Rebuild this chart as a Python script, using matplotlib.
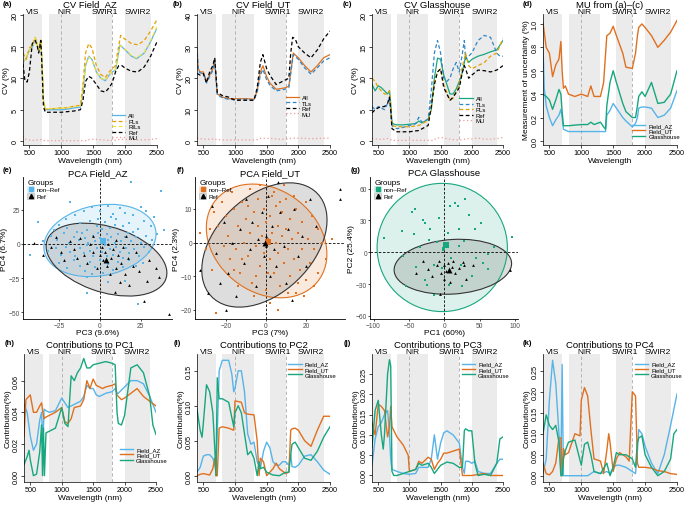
import numpy as np
import matplotlib
matplotlib.use('Agg')
import matplotlib.pyplot as plt
from matplotlib.patches import Ellipse, Patch
from matplotlib.lines import Line2D

plt.rcParams['font.family'] = ['Liberation Sans', 'DejaVu Sans']

# --- colours ---
C_AZ = '#56B4E9'
C_UT = '#E0701E'
C_GH = '#17A77E'
C_PL = '#E69F00'
C_RIL = '#EFE13F'
C_TL = '#2F86C8'
C_MU = '#F29A9A'

bands = [('VIS', 400, 700), ('NIR', 800, 1300), ('SWIR1', 1550, 1800), ('SWIR2', 2000, 2400)]

# --- (a) CV Field_AZ ---
cv_az_all = [(400, 12.5), (450, 13.2), (500, 14.5), (550, 15), (590, 16.3), (620, 15.5), (645, 14.2), (680, 16),
             (700, 12), (720, 6.5), (750, 5), (800, 5), (900, 5), (1000, 5), (1100, 5.1), (1200, 5.3), (1300, 5.4),
             (1340, 8), (1380, 12), (1430, 13.5), (1480, 13), (1550, 11), (1620, 10), (1690, 9.6), (1750, 10.5),
             (1800, 11), (1850, 11.3), (1880, 13), (1920, 15.3), (2000, 14.5), (2100, 13.5), (2180, 13.1),
             (2300, 14), (2400, 15.8), (2500, 18)]
cv_az_pl = [(400, 14), (450, 13), (500, 14.8), (550, 15.3), (590, 16.5), (620, 15.6), (645, 14.5), (680, 16.2),
            (700, 12), (720, 6.5), (750, 5.1), (800, 5.1), (900, 5.2), (1000, 5.3), (1100, 5.3), (1200, 5.6),
            (1300, 5.7), (1340, 9), (1380, 14), (1430, 15.5), (1480, 14.8), (1550, 12), (1620, 10.6), (1690, 10.1),
            (1750, 11), (1800, 11.5), (1850, 12), (1880, 14), (1930, 16.8), (2000, 16.2), (2100, 15.5),
            (2200, 15.3), (2300, 16), (2400, 17.5), (2500, 19.3)]
cv_az_ril = [(400, 12.6), (450, 13.3), (500, 14.6), (550, 15.1), (590, 16.4), (620, 15.6), (645, 14.3), (680, 16.1),
             (700, 12), (720, 6.5), (750, 5.2), (800, 5.2), (900, 5.2), (1000, 5.2), (1100, 5.3), (1200, 5.5),
             (1300, 5.6), (1340, 8.2), (1380, 12.2), (1430, 13.4), (1480, 12.9), (1550, 11), (1620, 10),
             (1690, 9.7), (1750, 10.5), (1800, 11.1), (1850, 11.4), (1880, 13.1), (1920, 15.2), (2000, 14.6),
             (2100, 13.6), (2180, 13.2), (2300, 14.1), (2400, 16), (2500, 18.2)]
cv_az_ref = [(400, 12.3), (430, 9.6), (465, 9.4), (500, 11), (545, 15.5), (590, 16), (620, 15.3), (645, 14),
             (680, 16), (700, 11), (720, 5.5), (750, 4.6), (800, 4.6), (900, 4.6), (1000, 4.6), (1100, 4.7),
             (1200, 4.8), (1300, 5), (1340, 6.5), (1380, 9.5), (1430, 10.3), (1480, 10), (1550, 9), (1620, 8),
             (1690, 7.8), (1750, 8.5), (1800, 9.3), (1850, 11), (1900, 12), (1950, 12), (2000, 11.6), (2100, 11.1),
             (2200, 11), (2300, 11.8), (2400, 13.5), (2500, 15.8)]

# --- (b) CV Field_UT ---
cv_ut_all = [(400, 29), (420, 23), (450, 22), (500, 22), (550, 19), (600, 21), (650, 23), (680, 26), (700, 20),
             (720, 15), (800, 14), (900, 13.5), (1000, 13.5), (1100, 13.5), (1200, 13.5), (1300, 13.3), (1350, 16),
             (1400, 22), (1440, 24), (1500, 20.5), (1550, 18.5), (1650, 16.5), (1750, 16.8), (1800, 17),
             (1850, 17.5), (1880, 22), (1920, 28), (2000, 26.5), (2100, 24), (2200, 22), (2300, 24), (2400, 26.5),
             (2500, 27.5)]
cv_ut_tl = [(400, 30), (420, 22.5), (450, 21.7), (500, 21.5), (550, 18.5), (600, 20.5), (650, 22.5), (680, 25.5),
            (700, 19.5), (720, 14.7), (800, 13.8), (900, 13.3), (1000, 13.2), (1100, 13.3), (1200, 13.3),
            (1300, 13.1), (1350, 15.5), (1400, 21), (1440, 22.8), (1500, 19.5), (1550, 17.8), (1650, 16),
            (1750, 16.3), (1800, 16.6), (1850, 17), (1880, 21.5), (1920, 27.5), (2000, 26), (2100, 23.3),
            (2200, 21.3), (2300, 23.3), (2400, 25.5), (2500, 26.5)]
cv_ut_ref = [(400, 21.5), (450, 21), (500, 21.5), (550, 18.5), (600, 22), (650, 24), (680, 26.5), (700, 21),
             (720, 15.5), (800, 14.5), (900, 14), (1000, 13), (1100, 13), (1200, 13), (1300, 13), (1350, 17),
             (1400, 25), (1440, 27.5), (1500, 23), (1550, 21), (1650, 18), (1750, 19), (1800, 19.5), (1850, 20),
             (1880, 28), (1910, 33), (1950, 32.5), (2000, 30), (2100, 28), (2200, 26.5), (2300, 29), (2400, 32.5),
             (2500, 35)]

# --- (c) CV Glasshouse ---
cv_gh_all = [(400, 9), (450, 8), (500, 8.8), (550, 8.5), (600, 8), (650, 7.5), (680, 8), (700, 6), (720, 3),
             (750, 2.7), (800, 2.6), (900, 2.6), (1000, 2.7), (1100, 2.8), (1150, 3.2), (1200, 2.9), (1300, 3.5),
             (1350, 5), (1400, 10), (1450, 13.2), (1500, 13), (1550, 10.5), (1650, 7.5), (1700, 7.5), (1750, 8.3),
             (1800, 9.5), (1850, 11), (1880, 12.5), (1900, 13.5), (1950, 12.5), (2000, 13), (2100, 13.5),
             (2200, 13.8), (2300, 14.2), (2400, 14.5), (2500, 16)]
cv_gh_tl = [(400, 5.5), (450, 5), (500, 5.5), (550, 5.3), (600, 5), (650, 6), (680, 7), (700, 5), (720, 2.5),
            (750, 2.2), (800, 2), (900, 2.2), (1000, 2.5), (1100, 2.8), (1150, 3.8), (1200, 3), (1300, 3.5),
            (1350, 8), (1400, 14), (1450, 16), (1500, 14), (1550, 10), (1600, 9.5), (1650, 10), (1700, 11.5),
            (1750, 12.5), (1800, 11), (1850, 14), (1880, 16), (1900, 13), (1950, 13.5), (2000, 14), (2100, 16),
            (2200, 16.8), (2300, 16.5), (2400, 14), (2450, 13.5), (2500, 13.5)]
cv_gh_pl = [(400, 10), (450, 9.5), (500, 8.5), (550, 8), (600, 7.5), (650, 7.5), (680, 8), (700, 5.5), (720, 2.5),
            (800, 2.3), (900, 2.3), (1000, 2.3), (1150, 2.5), (1300, 3.3), (1350, 5), (1400, 9.5), (1450, 11),
            (1500, 11.5), (1550, 9), (1650, 6.5), (1700, 6.8), (1800, 9), (1850, 12), (1880, 13), (1900, 14),
            (1950, 12), (2000, 11.5), (2100, 12), (2200, 12.5), (2300, 13.5), (2400, 14), (2500, 16.3)]
cv_gh_ref = [(400, 4.5), (450, 5), (500, 5.3), (550, 5.5), (600, 5.5), (650, 6), (680, 7), (700, 5), (720, 2),
             (750, 1.8), (800, 1.5), (1000, 1.5), (1150, 1.7), (1300, 2.5), (1350, 5.5), (1400, 9), (1450, 11),
             (1500, 11.5), (1550, 8.5), (1650, 6.5), (1700, 7), (1800, 8.5), (1850, 11), (1880, 12), (1900, 11.5),
             (1950, 10), (2000, 10.5), (2100, 11.3), (2200, 11.2), (2300, 11), (2400, 11.3), (2500, 12)]

# --- (d) measurement of uncertainty ---
mu_az = [(400, 0.8), (420, 0.45), (450, 0.3), (500, 0.2), (550, 0.13), (600, 0.18), (650, 0.22), (680, 0.27),
         (700, 0.2), (720, 0.1), (800, 0.08), (1000, 0.08), (1100, 0.08), (1300, 0.08), (1380, 0.08), (1400, 0.22),
         (1450, 0.26), (1500, 0.32), (1550, 0.28), (1650, 0.2), (1700, 0.17), (1800, 0.12), (1850, 0.15),
         (1880, 0.2), (1900, 0.28), (1950, 0.29), (2000, 0.29), (2100, 0.28), (2200, 0.2), (2300, 0.22),
         (2400, 0.28), (2500, 0.43)]
mu_ut = [(400, 1.01), (450, 0.8), (500, 0.75), (550, 0.55), (600, 0.65), (650, 0.7), (680, 0.85), (700, 0.6),
         (720, 0.45), (750, 0.47), (800, 0.4), (900, 0.38), (1000, 0.4), (1100, 0.38), (1150, 0.47), (1200, 0.38),
         (1300, 0.38), (1350, 0.5), (1400, 0.9), (1450, 0.92), (1500, 0.98), (1550, 0.9), (1650, 0.75),
         (1700, 0.63), (1800, 0.62), (1850, 0.75), (1880, 0.9), (1900, 0.97), (1950, 1.0), (2000, 0.97),
         (2100, 0.9), (2200, 0.8), (2300, 0.86), (2400, 0.93), (2500, 1.03)]
mu_gh = [(400, 0.4), (450, 0.38), (500, 0.35), (550, 0.27), (600, 0.35), (650, 0.44), (680, 0.4), (700, 0.25),
         (720, 0.13), (800, 0.13), (1000, 0.14), (1100, 0.14), (1150, 0.16), (1200, 0.14), (1300, 0.16),
         (1350, 0.12), (1380, 0.1), (1400, 0.3), (1450, 0.5), (1500, 0.6), (1550, 0.5), (1650, 0.32), (1700, 0.25),
         (1800, 0.2), (1850, 0.2), (1880, 0.3), (1900, 0.38), (1950, 0.42), (2000, 0.38), (2100, 0.5),
         (2200, 0.32), (2300, 0.33), (2400, 0.4), (2500, 0.6)]

# --- (h)-(k) contributions to PCs ---
pc1_az = [(400, 0.045), (450, 0.04), (500, 0.025), (550, 0.016), (600, 0.02), (650, 0.035), (680, 0.04),
          (700, 0.02), (720, 0.042), (750, 0.041), (800, 0.04), (900, 0.041), (1000, 0.049), (1100, 0.043),
          (1150, 0.044), (1200, 0.045), (1300, 0.047), (1350, 0.05), (1400, 0.057), (1450, 0.055), (1500, 0.055),
          (1550, 0.051), (1600, 0.05), (1700, 0.052), (1800, 0.053), (1850, 0.055), (1880, 0.052), (1900, 0.052),
          (1950, 0.054), (2000, 0.056), (2100, 0.06), (2200, 0.06), (2300, 0.058), (2400, 0.05), (2500, 0.04)]
pc1_ut = [(400, 0.025), (430, 0.048), (500, 0.051), (550, 0.04), (600, 0.04), (650, 0.044), (680, 0.046),
          (700, 0.04), (720, 0.036), (750, 0.037), (800, 0.038), (900, 0.04), (1000, 0.043), (1050, 0.034),
          (1100, 0.033), (1150, 0.036), (1200, 0.043), (1300, 0.044), (1350, 0.048), (1400, 0.06), (1450, 0.055),
          (1500, 0.061), (1550, 0.057), (1650, 0.055), (1700, 0.056), (1800, 0.057), (1850, 0.058),
          (1880, 0.051), (1900, 0.05), (1950, 0.048), (2000, 0.049), (2100, 0.052), (2200, 0.055), (2300, 0.05),
          (2400, 0.047), (2500, 0.044)]
pc1_gh = [(400, 0.007), (450, 0.012), (480, 0.016), (500, 0.01), (550, 0.0), (600, 0.001), (650, 0.015),
          (680, 0.032), (695, 0.0), (710, 0.03), (725, 0.0), (750, 0.027), (800, 0.028), (900, 0.03),
          (1000, 0.043), (1050, 0.033), (1100, 0.031), (1150, 0.063), (1200, 0.06), (1250, 0.065), (1300, 0.068),
          (1350, 0.074), (1400, 0.068), (1450, 0.068), (1500, 0.07), (1600, 0.071), (1700, 0.072), (1800, 0.071),
          (1850, 0.07), (1880, 0.04), (1900, 0.033), (1950, 0.032), (2000, 0.038), (2100, 0.068), (2200, 0.07),
          (2300, 0.065), (2400, 0.05), (2450, 0.032), (2500, 0.026)]

pc2_az = [(400, 0.005), (450, 0.012), (500, 0.028), (550, 0.03), (600, 0.03), (650, 0.025), (700, 0.01),
          (720, 0.06), (750, 0.15), (800, 0.165), (900, 0.165), (950, 0.145), (980, 0.12), (1000, 0.125),
          (1050, 0.15), (1100, 0.15), (1150, 0.12), (1200, 0.06), (1250, 0.045), (1300, 0.048), (1350, 0.02),
          (1400, 0.01), (1450, 0.035), (1500, 0.048), (1550, 0.04), (1600, 0.02), (1650, 0.015), (1700, 0.015),
          (1750, 0.02), (1800, 0.02), (1850, 0.015), (1880, 0.03), (1900, 0.013), (1950, 0.012), (2000, 0.015),
          (2100, 0.028), (2200, 0.03), (2300, 0.02), (2400, 0.008), (2500, 0.002)]
pc2_ut = [(400, 0.0), (450, 0.002), (500, 0.003), (600, 0.001), (650, 0.01), (680, 0.025), (700, 0.0),
          (720, 0.0), (750, 0.068), (800, 0.07), (900, 0.068), (980, 0.065), (1000, 0.107), (1100, 0.105),
          (1150, 0.09), (1200, 0.088), (1300, 0.087), (1350, 0.05), (1380, 0.0), (1400, 0.025), (1450, 0.02),
          (1500, 0.0), (1550, 0.005), (1600, 0.01), (1650, 0.018), (1700, 0.01), (1800, 0.003), (1850, 0.005),
          (1880, 0.065), (1900, 0.067), (1950, 0.068), (2000, 0.065), (2100, 0.05), (2200, 0.042), (2300, 0.065),
          (2400, 0.085), (2500, 0.085)]
pc2_gh = [(400, 0.095), (450, 0.065), (480, 0.055), (500, 0.075), (550, 0.13), (600, 0.12), (650, 0.09),
          (680, 0.04), (700, 0.0), (720, 0.14), (750, 0.11), (800, 0.11), (900, 0.105), (980, 0.07), (1000, 0.09),
          (1050, 0.1), (1100, 0.09), (1150, 0.06), (1200, 0.03), (1250, 0.035), (1300, 0.025), (1350, 0.0),
          (1380, 0.02), (1400, 0.01), (1450, 0.012), (1500, 0.005), (1550, 0.003), (1600, 0.001), (1700, 0.0),
          (1800, 0.005), (1850, 0.005), (1880, 0.03), (1900, 0.045), (1950, 0.048), (2000, 0.04), (2100, 0.025),
          (2200, 0.022), (2300, 0.035), (2400, 0.055), (2500, 0.07)]

pc3_az = [(400, 0.025), (450, 0.09), (500, 0.12), (550, 0.13), (600, 0.15), (650, 0.16), (680, 0.1), (700, 0.04),
          (720, 0.015), (800, 0.01), (900, 0.005), (1000, 0.003), (1100, 0.005), (1150, 0.02), (1200, 0.02),
          (1300, 0.02), (1350, 0.04), (1400, 0.1), (1450, 0.04), (1500, 0.08), (1550, 0.105), (1600, 0.11),
          (1700, 0.1), (1800, 0.08), (1850, 0.02), (1880, 0.005), (1900, 0.035), (1950, 0.035), (2000, 0.03),
          (2050, 0.035), (2100, 0.01), (2200, 0.005), (2300, 0.005), (2400, 0.03), (2450, 0.04), (2500, 0.04)]
pc3_ut = [(400, 0.13), (450, 0.1), (500, 0.175), (550, 0.17), (600, 0.16), (650, 0.095), (680, 0.12), (700, 0.17),
          (720, 0.12), (800, 0.095), (900, 0.075), (980, 0.05), (1000, 0.01), (1100, 0.015), (1150, 0.035),
          (1200, 0.03), (1300, 0.045), (1350, 0.04), (1400, 0.015), (1450, 0.03), (1500, 0.04), (1550, 0.055),
          (1600, 0.055), (1700, 0.06), (1800, 0.065), (1850, 0.0), (2000, 0.0), (2200, 0.005), (2300, 0.0),
          (2500, 0.0)]
pc3_gh = [(400, 0.07), (450, 0.16), (500, 0.185), (550, 0.1), (580, 0.065), (600, 0.1), (650, 0.25), (680, 0.285),
          (700, 0.27), (720, 0.01), (750, 0.0), (800, 0.0), (900, 0.005), (1000, 0.01), (1100, 0.015),
          (1150, 0.03), (1200, 0.025), (1300, 0.03), (1350, 0.02), (1400, 0.005), (1450, 0.015), (1500, 0.025),
          (1600, 0.033), (1700, 0.03), (1800, 0.02), (1850, 0.02), (1880, 0.11), (1900, 0.115), (1950, 0.11),
          (2000, 0.11), (2050, 0.03), (2100, 0.0), (2200, 0.003), (2300, 0.0), (2400, 0.03), (2450, 0.09),
          (2500, 0.095)]

pc4_az = [(400, 0.005), (450, 0.04), (500, 0.18), (550, 0.275), (600, 0.22), (650, 0.1), (680, 0.01),
          (700, 0.265), (720, 0.0), (800, 0.0), (1000, 0.0), (1100, 0.0), (1200, 0.01), (1300, 0.005),
          (1400, 0.01), (1450, 0.005), (1500, 0.02), (1550, 0.025), (1600, 0.025), (1700, 0.02), (1800, 0.01),
          (1850, 0.005), (1880, 0.06), (1900, 0.11), (1950, 0.1), (2000, 0.07), (2100, 0.03), (2200, 0.005),
          (2300, 0.05), (2400, 0.12), (2500, 0.195)]
pc4_ut = [(400, 0.03), (450, 0.005), (500, 0.002), (550, 0.01), (600, 0.03), (650, 0.09), (680, 0.09), (700, 0.0),
          (720, 0.065), (750, 0.05), (800, 0.055), (900, 0.1), (980, 0.095), (1000, 0.18), (1050, 0.21),
          (1100, 0.19), (1150, 0.11), (1200, 0.04), (1300, 0.035), (1350, 0.005), (1400, 0.06), (1430, 0.1),
          (1450, 0.08), (1500, 0.01), (1550, 0.04), (1600, 0.055), (1700, 0.045), (1750, 0.035), (1800, 0.2),
          (1850, 0.19), (1880, 0.03), (1900, 0.02), (2000, 0.02), (2100, 0.018), (2200, 0.012), (2300, 0.01),
          (2400, 0.005), (2500, 0.003)]
pc4_gh = [(400, 0.1), (450, 0.145), (500, 0.12), (550, 0.11), (600, 0.12), (650, 0.08), (680, 0.0), (700, 0.0),
          (720, 0.04), (750, 0.06), (800, 0.08), (900, 0.085), (1000, 0.025), (1050, 0.075), (1100, 0.08),
          (1150, 0.05), (1200, 0.01), (1300, 0.005), (1400, 0.03), (1450, 0.0), (1500, 0.02), (1550, 0.055),
          (1600, 0.05), (1700, 0.05), (1800, 0.04), (1850, 0.02), (1880, 0.08), (1900, 0.09), (1950, 0.095),
          (2000, 0.05), (2100, 0.02), (2200, 0.0), (2300, 0.01), (2400, 0.04), (2450, 0.1), (2500, 0.11)]

# --- PCA scores ---
az_nonref = [(19, 45), (37, 39), (-18, 31), (5, 28), (12, 26), (-5, 27), (25, 27), (28, 24), (-10, 24), (15, 23),
             (0, 24), (8, 22), (20, 21), (-15, 21), (-38, 16), (-25, 14), (-20, 12), (-12, 15), (-6, 17), (-2, 13),
             (3, 16), (6, 12), (10, 18), (14, 13), (18, 15), (23, 11), (27, 17), (31, 13), (39, 10), (-28, 10),
             (-8, 10), (1, 11), (-35, 2), (-30, 6), (-26, 3), (-22, 8), (-19, 1), (-16, 5), (-13, 3), (-11, 8),
             (-9, 4), (-7, 1), (-4, 6), (-3, 2), (-1, 8), (0, 4), (2, 1), (4, 7), (5, 3), (7, 5), (9, 1), (11, 7),
             (13, 2), (15, 5), (17, 8), (19, 2), (22, 5), (25, 1), (28, 6), (32, 3), (35, 7), (-43, -8), (-32, -5),
             (-27, -3), (-24, -8), (-21, -2), (-18, -6), (-15, -9), (-12, -3), (-10, -7), (-8, -1), (-6, -5),
             (-4, -9), (-2, -3), (1, -6), (3, -1), (4, -9), (6, -4), (8, -8), (10, -2), (12, -6), (14, -10),
             (16, -3), (18, -7), (21, -4), (24, -9), (27, -2), (30, -6), (-25, -14), (-20, -18), (-16, -12),
             (-12, -16), (-9, -20), (-6, -13), (-3, -17), (0, -12), (2, -21), (5, -15), (8, -19), (11, -13),
             (14, -17), (18, -12), (22, -16), (26, -14), (-8, -24), (-8, -36), (23, -44), (5, -28), (15, -27),
             (-1, 18), (7, 20), (-14, 9), (20, 9), (-5, -22), (9, 14), (-21, 18), (33, 20)]
az_ref = [(-40, 1), (-35, -8), (-30, -2), (-27, 5), (-24, -6), (-22, -12), (-18, 2), (-16, -4), (-14, -10),
          (-12, 4), (-10, -8), (-8, -14), (-6, 0), (-4, -6), (-2, -18), (0, -8), (1, -2), (2, -12), (3, -6),
          (4, -16), (5, 0), (6, -22), (7, -10), (8, -4), (9, -35), (10, -18), (11, -8), (12, -28), (13, -14),
          (14, -2), (15, -22), (17, -10), (18, -30), (20, -16), (22, -6), (24, -20), (27, -42), (29, -27),
          (30, -12), (34, -18), (36, -24), (42, -51), (10, 3), (-4, 6), (16, 6)]

ut_nonref = [(-33, 3), (-28, 4), (-24, 5), (-30, -2), (-27, -8), (-25, -21), (-22, 12), (-20, 8), (-19, 2),
             (-18, -5), (-17, 15), (-16, 10), (-15, -2), (-14, 5), (-13, -9), (-12, 12), (-11, 0), (-10, 7),
             (-9, -4), (-8, 16), (-8, 3), (-7, -12), (-6, 9), (-5, -1), (-4, 13), (-4, 5), (-3, -7), (-2, 2),
             (-1, 10), (-1, -3), (0, 6), (0, -14), (1, 1), (2, 8), (2, -5), (3, 14), (3, 3), (4, -9), (5, 11),
             (5, 0), (6, 5), (6, -3), (7, -13), (8, 9), (8, 2), (9, -6), (10, 13), (10, 4), (11, -2), (12, -10),
             (12, 7), (13, 1), (14, -5), (15, 10), (15, -15), (16, 3), (17, -8), (18, 6), (18, -2), (20, -11),
             (20, 12), (21, 1), (22, -6), (23, 8), (24, -2), (26, -9), (26, 4), (28, 0), (30, -5), (33, 1),
             (-21, -1), (-16, -8), (-9, 11), (-5, -10), (1, -9), (4, 15), (7, 12), (11, -15), (14, 14), (19, -16),
             (-12, -5), (-3, 17), (9, 17), (-26, 9), (-6, -16), (16, -12), (24, -13), (-14, -13), (2, -18),
             (6, -20)]
ut_ref = [(-33, -8), (-29, -15), (-27, 11), (-25, -3), (-23, -12), (-21, 6), (-19, -9), (-17, 0), (-15, -16),
          (-13, 4), (-11, -6), (-10, 13), (-8, -2), (-7, 6), (-5, -13), (-4, 1), (-2, 9), (-1, -4), (0, 2),
          (0, -1), (1, 14), (2, -10), (3, 5), (4, -2), (5, -7), (7, 9), (9, -1), (10, -12), (11, 4), (13, -17),
          (14, 10), (16, -4), (18, 2), (20, -7), (22, 13), (25, 5), (37, 16), (37, 13), (6, 18), (-20, -20)]

gh_nonref = [(-85, 13), (-58, -4), (-45, 38), (-41, 41), (-43, 17), (-30, 30), (-27, 28), (-20, 22), (-22, 12),
             (-7, 32), (8, 44), (15, 46), (29, 50), (19, 44), (52, 28), (43, 22), (20, 22), (96, 14), (28, 11),
             (20, 6), (62, -2), (55, -10), (62, -16), (23, -12), (39, -22), (25, -32), (-40, -14), (-27, -26),
             (-54, -32), (-25, -31), (-15, -12), (-3, -15), (7, -31), (-2, 4), (-1, 3), (-2, 2), (-35, 5),
             (-10, 10), (5, 18), (35, 35), (70, 5), (-60, 20), (-15, -40), (45, -5), (10, -5)]
gh_ref = [(26, -9), (28, -12), (93, -17), (11, -14), (-6, -39), (-23, -16), (-11, -12), (-5, -20), (0, -25),
          (5, -10), (15, -20), (20, -15), (-30, -8), (-18, -22), (-8, -8), (2, -18), (8, -28), (30, -25),
          (40, -12), (-40, -20), (12, -8), (0, -12)]

# confidence ellipses: centre x, centre y, width, height, angle (data units)
ell_az = [(0, 2.5, 70, 51, 17.5), (4, -11.5, 78, 47, -24)]
ell_ut = [(0.3, 0.5, 61, 32.5, -10.4), (-0.8, -0.7, 65, 32.6, 18)]
ell_gh = [(-3, 4.5, 184, 121, 0), (12, -13.7, 166, 51.5, 2.3)]


def pts(series):
    return [p[0] for p in series], [p[1] for p in series]


def spec_axes(ax, ylim, yticks, ylabel, title, xlabel='Wavelength (nm)'):
    for name, lo, hi in bands:
        ax.axvspan(lo, hi, color='#EBEBEB', lw=0, zorder=0)
        ax.text((lo + hi) / 2, 1.02, name, transform=ax.get_xaxis_transform(),
                ha='center', va='center', fontsize=6)
    for x in (1000, 1800):
        ax.axvline(x, color='#AAAAAA', ls=(0, (4, 3)), lw=0.6, zorder=0.5)
    ax.set_xlim(400, 2500)
    ax.set_ylim(*ylim)
    ax.set_xticks([500, 1000, 1500, 2000, 2500])
    ax.set_yticks(yticks)
    ax.tick_params(labelsize=5.2, length=2.0, width=0.5, pad=1.0)
    plt.setp(ax.get_yticklabels(), rotation=90, va='center')
    for s in ('top', 'right'):
        ax.spines[s].set_visible(False)
    for s in ('left', 'bottom'):
        ax.spines[s].set_linewidth(0.5)
    ax.set_xlabel(xlabel, fontsize=6.0, labelpad=0.8)
    ax.set_ylabel(ylabel, fontsize=6.0, labelpad=1.2)
    ax.text(0.5, 1.076, title, transform=ax.transAxes, ha='center', va='center', fontsize=6.8)


def line(ax, series, color, ls='-', lw=0.9, label=None):
    x, y = pts(series)
    ax.plot(x, y, color=color, ls=ls, lw=lw, label=label, zorder=2)


def small_legend(ax, anchor, loc='lower left'):
    ax.legend(loc=loc, bbox_to_anchor=anchor, frameon=False, fontsize=4.3, handlelength=2.2,
              labelspacing=0.05, borderpad=0.1, handletextpad=0.5)


W, H = 685, 506
fig = plt.figure(figsize=(W / 100, H / 100), dpi=100)


def add_ax(x0, x1, y0, y1):
    return fig.add_axes([x0 / W, 1 - y1 / H, (x1 - x0) / W, (y1 - y0) / H])


def letter(x, y, s):
    fig.text(x / W, 1 - y / H, s, fontsize=5.5, fontweight='bold', ha='left', va='center')


dash = (0, (3, 2))
dot = (0, (1, 2))

# row 1
ax = add_ax(23, 157, 15, 146)
line(ax, cv_az_all, C_AZ, label='All')
line(ax, cv_az_pl, C_PL, dash, label='PLs')
line(ax, cv_az_ril, C_RIL, dash, label='RILs')
line(ax, cv_az_ref, 'black', dash, label='Ref')
line(ax, mu_az, C_MU, dot, label='MU')
spec_axes(ax, (-0.6, 20.2), [0, 5, 10, 15, 20], 'CV (%)', 'CV Field_AZ')
small_legend(ax, (0.64, 0.01))
letter(3, 4, '(a)')

ax = add_ax(197, 330, 15, 146)
line(ax, cv_ut_all, C_UT, label='All')
line(ax, cv_ut_tl, C_TL, dash, label='TLs')
line(ax, cv_ut_ref, 'black', dash, label='Ref')
line(ax, mu_ut, C_MU, dot, label='MU')
spec_axes(ax, (-1.2, 40.4), [0, 10, 20, 30, 40], 'CV (%)', 'CV Field_UT')
small_legend(ax, (0.64, 0.19))
letter(173, 4, '(b)')

ax = add_ax(372, 503, 15, 146)
line(ax, cv_gh_all, C_GH, label='All')
line(ax, cv_gh_tl, C_TL, dash, label='TLs')
line(ax, cv_gh_pl, C_PL, dash, label='PLs')
line(ax, cv_gh_ref, 'black', dash, label='Ref')
line(ax, mu_gh, C_MU, dot, label='MU')
spec_axes(ax, (-0.6, 20.2), [0, 5, 10, 15, 20], 'CV (%)', 'CV Glasshouse')
small_legend(ax, (0.64, 0.14))
letter(343, 4, '(c)')

ax = add_ax(543, 677, 15, 146)
line(ax, mu_az, C_AZ, lw=1.0, label='Field_AZ')
line(ax, mu_ut, C_UT, lw=1.0, label='Field_UT')
line(ax, mu_gh, C_GH, lw=1.0, label='Glasshouse')
spec_axes(ax, (-0.035, 1.085), [0.0, 0.2, 0.4, 0.6, 0.8, 1.0], 'Measurement of uncertainty (%)',
          'MU from (a)\u2013(c)', xlabel='Wavelength')
ax.set_yticklabels(['0.0', '0.2', '0.4', '0.6', '0.8', '1.0'])
plt.setp(ax.get_yticklabels(), rotation=90, va='center')
small_legend(ax, (0.64, 0.02))
letter(523, 4, '(d)')


# row 2: PCA
def pca_panel(ax, nonref, ref, color, ells, xlim, ylim, xticks, yticks, xlabel, ylabel, title):
    (cx, cy, w, h, a), (rx, ry, rw, rh, ra) = ells
    ax.add_patch(Ellipse((cx, cy), w, h, angle=a, fc=color, alpha=0.15, ec='none', zorder=1))
    ax.add_patch(Ellipse((cx, cy), w, h, angle=a, fc='none', ec=color, lw=0.8, zorder=3))
    ax.add_patch(Ellipse((rx, ry), rw, rh, angle=ra, fc='#666666', alpha=0.22, ec='none', zorder=1))
    ax.add_patch(Ellipse((rx, ry), rw, rh, angle=ra, fc='none', ec='#333333', lw=0.8, zorder=3))
    ax.axhline(0, color='black', ls=(0, (3, 2)), lw=0.6, zorder=2)
    ax.axvline(0, color='black', ls=(0, (3, 2)), lw=0.6, zorder=2)
    x, y = pts(nonref)
    ax.scatter(x, y, s=3, marker='s', color=color, lw=0, zorder=4)
    ax.scatter([np.mean(x)], [np.mean(y)], s=14, marker='s', color=color, lw=0, zorder=5)
    x, y = pts(ref)
    ax.scatter(x, y, s=4, marker='^', color='black', lw=0, zorder=4)
    ax.scatter([np.mean(x)], [np.mean(y)], s=18, marker='^', color='black', lw=0, zorder=5)
    ax.set_xlim(*xlim)
    ax.set_ylim(*ylim)
    ax.set_xticks(xticks)
    ax.set_yticks(yticks)
    ax.tick_params(labelsize=4.8, length=1.6, width=0.5, pad=0.6, labelcolor='#4D4D4D')
    for s in ('top', 'right'):
        ax.spines[s].set_visible(False)
    for s in ('left', 'bottom'):
        ax.spines[s].set_linewidth(0.6)
    ax.set_xlabel(xlabel, fontsize=6, labelpad=0.3)
    ax.set_ylabel(ylabel, fontsize=6, labelpad=0.3)
    ax.set_title(title, fontsize=6.8, pad=1.0)
    h1 = (Patch(fc=color, alpha=0.15, ec=color, lw=0.6), Line2D([], [], marker='s', color=color, ls='', ms=2.5))
    h2 = (Patch(fc='#666666', alpha=0.22, ec='#333333', lw=0.6), Line2D([], [], marker='^', color='black', ls='', ms=3))
    leg = ax.legend([h1, h2], ['non\u2013Ref', 'Ref'], title='Groups', loc='upper left', bbox_to_anchor=(0.0, 1.02),
                    frameon=False, fontsize=4.5, title_fontsize=5.8, handlelength=1.0, handleheight=1.0,
                    labelspacing=0.15, borderpad=0.2, handletextpad=0.5)
    leg._legend_box.align = 'left'


ax = add_ax(23, 172, 178, 320)
pca_panel(ax, az_nonref, az_ref, C_AZ, ell_az, (-47, 44), (-55, 49), [-25, 0, 25], [-50, -25, 0, 25],
          'PC3 (9.6%)', 'PC4 (6.7%)', 'PCA Field_AZ')
letter(3, 171, '(e)')

ax = add_ax(195, 345, 178, 320)
pca_panel(ax, ut_nonref, ut_ref, C_UT, ell_ut, (-35.5, 39.5), (-22.7, 19.5), [-20, 0, 20], [-20, -10, 0, 10],
          'PC3 (7%)', 'PC4 (2.3%)', 'PCA Field_UT')
letter(177, 171, '(f)')

ax = add_ax(370, 518, 178, 320)
pca_panel(ax, gh_nonref, gh_ref, C_GH, ell_gh, (-105, 104), (-63, 71), [-100, -50, 0, 50, 100],
          [-60, -30, 0, 30, 60], 'PC1 (60%)', 'PC2 (25.4%)', 'PCA Glasshouse')
letter(351, 171, '(g)')

# row 3: contributions
contrib = [
    ((24, 156), pc1_az, pc1_ut, pc1_gh, (-0.004, 0.0768), [0.0, 0.02, 0.04, 0.06], 'Contributions to PC1',
     '(h)', 5, ('lower left', (0.7, 0.12))),
    ((197, 330), pc2_az, pc2_ut, pc2_gh, (-0.009, 0.174), [0.0, 0.05, 0.1, 0.15], 'Contributions to PC2',
     '(i)', 174, ('upper left', (0.66, 0.97))),
    ((372, 503), pc3_az, pc3_ut, pc3_gh, (-0.016, 0.299), [0.0, 0.05, 0.1, 0.15, 0.2, 0.25],
     'Contributions to PC3', '(j)', 344, ('upper left', (0.66, 0.97))),
    ((543, 677), pc4_az, pc4_ut, pc4_gh, (-0.015, 0.29), [0.0, 0.05, 0.1, 0.15, 0.2, 0.25],
     'Contributions to PC4', '(k)', 523, ('upper left', (0.66, 0.97))),
]
for (x0, x1), s_az, s_ut, s_gh, ylim, yt, title, lab, lx, (lloc, lanc) in contrib:
    ax = add_ax(x0, x1, 355, 483)
    line(ax, s_az, C_AZ, lw=1.0, label='Field_AZ')
    line(ax, s_ut, C_UT, lw=1.0, label='Field_UT')
    line(ax, s_gh, C_GH, lw=1.0, label='Glasshouse')
    spec_axes(ax, ylim, yt, 'Contribution(%)', title)
    ax.set_yticklabels(['%.2f' % v for v in yt])
    plt.setp(ax.get_yticklabels(), rotation=90, va='center')
    small_legend(ax, lanc, loc=lloc)
    letter(lx, 344, lab)

fig.savefig('out.png', dpi=100)
